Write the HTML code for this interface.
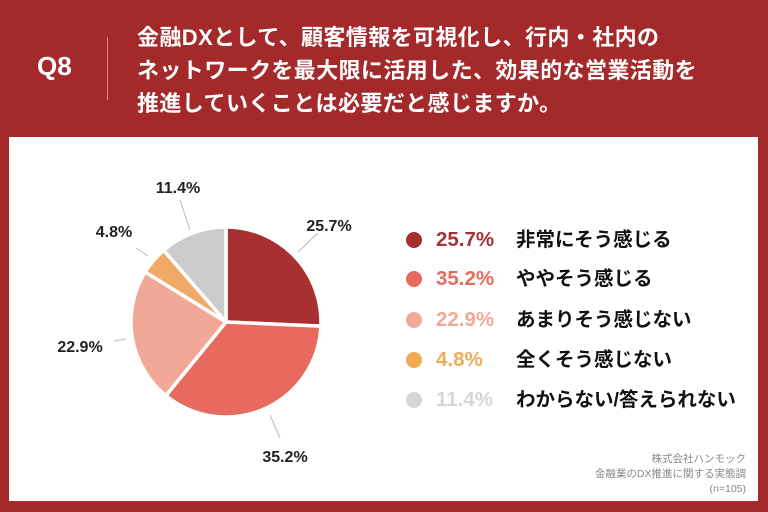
<!DOCTYPE html>
<html><head><meta charset="utf-8"><style>
body{margin:0;width:768px;height:512px;background:#a3292b;position:relative;overflow:hidden;font-family:"Liberation Sans","Noto Sans CJK JP",sans-serif}
.panel{position:absolute;left:9px;top:137px;width:749px;height:364px;background:#fff}
.q{position:absolute;left:37px;top:51px;color:#fff;font-size:26px;font-weight:bold}
.sep{position:absolute;left:107px;top:37px;width:1px;height:63px;background:#d88}
.title{position:absolute;left:137px;top:21px;color:#fff;font-size:22px;font-weight:bold;line-height:33px;letter-spacing:0.4px;white-space:nowrap}
.lg{position:absolute;font-size:19.5px;font-weight:bold;line-height:22px}
.pc{font-size:20.5px}
.dot{position:absolute;width:16px;height:16px;border-radius:50%}
.src{position:absolute;right:22px;top:452px;text-align:right;color:#888;font-size:10.5px;line-height:15px}
</style></head><body>
<div class="q">Q8</div><div class="sep"></div>
<div class="title">金融DXとして、顧客情報を可視化し、行内・社内の<br>ネットワークを最大限に活用した、効果的な営業活動を<br>推進していくことは必要だと感じますか。</div>
<div class="panel"></div>
<svg style="position:absolute;left:0;top:0" width="768" height="512">
<g stroke="#fff" stroke-width="3.5" stroke-linejoin="round">
<path d="M226,322 L226,227 A95,95 0 0 1 320.9,326.1 Z" fill="#a83030"/>
<path d="M226,322 L320.9,326.1 A95,95 0 0 1 165.9,395.6 Z" fill="#e86a5f"/>
<path d="M226,322 L165.9,395.6 A95,95 0 0 1 145.2,272.0 Z" fill="#f1a897"/>
<path d="M226,322 L145.2,272.0 A95,95 0 0 1 163.7,250.3 Z" fill="#f1aa66"/>
<path d="M226,322 L163.7,250.3 A95,95 0 0 1 226,227 Z" fill="#cbcbcb"/>
</g>
<g stroke="#bbb" stroke-width="1">
<line x1="298" y1="252" x2="318" y2="233"/>
<line x1="270" y1="415" x2="280" y2="438"/>
<line x1="126" y1="339" x2="114" y2="341"/>
<line x1="148" y1="256" x2="136" y2="248"/>
<line x1="190" y1="230" x2="180" y2="200"/>
</g>
<g font-family="Liberation Sans, sans-serif" font-weight="bold" font-size="16" fill="#222" text-anchor="middle">
<text x="329" y="231">25.7%</text>
<text x="285" y="462">35.2%</text>
<text x="80" y="352">22.9%</text>
<text x="114" y="237">4.8%</text>
<text x="178" y="193">11.4%</text>
</g>
</svg>
<div class="dot" style="left:406px;top:232px;background:#a83030"></div>
<div class="dot" style="left:406px;top:271px;background:#e86a5f"></div>
<div class="dot" style="left:406px;top:312px;background:#f1a897"></div>
<div class="dot" style="left:406px;top:352px;background:#f1aa55"></div>
<div class="dot" style="left:406px;top:392px;background:#d6d6d6"></div>
<div class="lg pc" style="left:436px;top:229px;color:#a83030">25.7%</div>
<div class="lg pc" style="left:436px;top:268px;color:#e86a5f">35.2%</div>
<div class="lg pc" style="left:436px;top:309px;color:#f1a897">22.9%</div>
<div class="lg pc" style="left:436px;top:349px;color:#f1aa55">4.8%</div>
<div class="lg pc" style="left:436px;top:389px;color:#d6d6d6">11.4%</div>
<div class="lg" style="left:516px;top:229px;color:#111">非常にそう感じる</div>
<div class="lg" style="left:516px;top:268px;color:#111">ややそう感じる</div>
<div class="lg" style="left:516px;top:309px;color:#111">あまりそう感じない</div>
<div class="lg" style="left:516px;top:349px;color:#111">全くそう感じない</div>
<div class="lg" style="left:516px;top:389px;color:#111">わからない/答えられない</div>
<div class="src">株式会社ハンモック<br>金融業のDX推進に関する実態調<br>(n=105)</div>
</body></html>
